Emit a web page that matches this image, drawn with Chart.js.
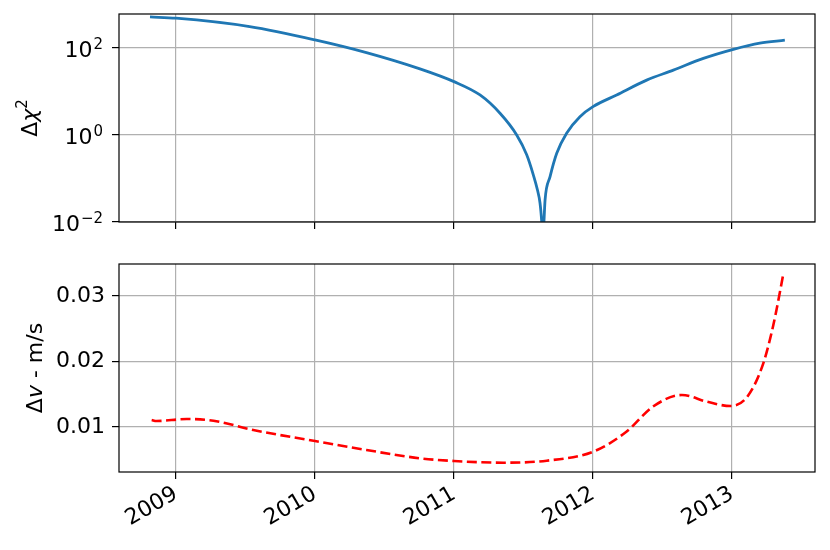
<!DOCTYPE html>
<html lang="en">
<head>
    <meta charset="UTF-8">
    <title>Δχ² and Δv</title>
    <script src="https://cdn.jsdelivr.net/npm/chart.js"></script>
    <style>
        body { margin: 0; background: #fff; }
        .wrap { position: relative; width: 830px; height: 550px; }
        canvas { position: absolute; left: 0; }
        #chiChart { top: 0; }
        #velChart { top: 243px; }
    </style>
</head>
<body>
    <div class="wrap">
        <canvas id="chiChart" width="830" height="243"></canvas>
        <canvas id="velChart" width="830" height="307"></canvas>
    </div>
    <script>
        // shared x axis (decimal years)
        const yearTicks = [2009, 2010, 2011, 2012, 2013];
        const xMin = 2008.59, xMax = 2013.597;

        // top panel: delta chi^2 (log)
        const chiYears = [2008.813, 2009.0, 2009.53, 2010.0, 2010.37, 2010.755, 2011.0, 2011.187, 2011.331,
            2011.451, 2011.523, 2011.571, 2011.600, 2011.619, 2011.631, 2011.638, 2011.647, 2011.655,
            2011.691, 2011.739, 2011.81, 2011.906, 2012.0, 2012.17, 2012.386, 2012.578, 2012.794,
            2013.01, 2013.20, 2013.38];
        const chiValues = [516, 482, 309, 153, 78, 33, 16.8, 8.3, 3.16,
            1.0, 0.35, 0.12, 0.055, 0.027, 0.0102, 0.004, 0.0102, 0.032,
            0.11, 0.38, 1.1, 2.63, 4.47, 8.3, 18.2, 30.9, 57.5,
            93, 129, 151];
        const chiTicks = [0.01, 1, 100];

        // bottom panel: delta v in m/s
        const velYears = [2008.825, 2008.86, 2009.077, 2009.27, 2009.556, 2010.0, 2010.37, 2010.755, 2011.0,
            2011.355, 2011.667, 2012.0, 2012.24, 2012.43, 2012.64, 2012.82, 2012.99, 2013.11, 2013.225,
            2013.30, 2013.37];
        const velValues = [0.01107, 0.01092, 0.01122, 0.01096, 0.00954, 0.00786, 0.00649, 0.00522, 0.00481,
            0.00455, 0.00486, 0.00623, 0.00928, 0.0131, 0.01489, 0.01386, 0.0132, 0.01463, 0.01972,
            0.02583, 0.03346];
        const velTicks = [0.01, 0.02, 0.03];

        const FONT = '"DejaVu Sans", sans-serif';
        const gridOpts = { color: '#b0b0b0', lineWidth: 1.2, tickColor: '#000', tickLength: 7, tickWidth: 1.2 };

        function drawRich(ctx, parts, x, y) {
            // rotated axis title, centred on y, baseline at x
            ctx.save();
            ctx.translate(x, y);
            ctx.rotate(-Math.PI / 2);
            ctx.fillStyle = '#000';
            ctx.textBaseline = 'alphabetic';
            ctx.textAlign = 'left';
            let total = 0;
            parts.forEach(p => { ctx.font = p.f; total += ctx.measureText(p.t).width; });
            let cx = -total / 2;
            parts.forEach(p => {
                ctx.font = p.f;
                ctx.fillText(p.t, cx, p.dy || 0);
                cx += ctx.measureText(p.t).width;
            });
            ctx.restore();
        }

        const frame = {
            id: 'frame',
            afterDraw(chart) {
                const a = chart.chartArea, ctx = chart.ctx;
                ctx.save();
                ctx.strokeStyle = '#000';
                ctx.lineWidth = 1.2;
                ctx.strokeRect(a.left, a.top, a.right - a.left, a.bottom - a.top);
                ctx.restore();
            }
        };

        const chiText = {
            id: 'chiText',
            afterDraw(chart) {
                const ctx = chart.ctx, ys = chart.scales.y;
                ctx.save();
                ctx.fillStyle = '#000';
                ctx.textAlign = 'right';
                ctx.textBaseline = 'alphabetic';
                chiTicks.forEach(v => {
                    const py = ys.getPixelForValue(v);
                    const e = Math.round(Math.log10(v));
                    const exp = e < 0 ? '\u2212' + (-e) : String(e);
                    ctx.font = '15px ' + FONT;
                    const ew = ctx.measureText(exp).width;
                    ctx.fillText(exp, 103, py + 1);
                    ctx.font = '22px ' + FONT;
                    ctx.fillText('10', 103 - ew - 1, py + 9);
                });
                ctx.restore();
                drawRich(ctx, [
                    { t: 'Δ', f: '22px ' + FONT },
                    { t: 'χ', f: 'italic 22px ' + FONT },
                    { t: '2', f: '15px ' + FONT, dy: -10 }
                ], 37, (chart.chartArea.top + chart.chartArea.bottom) / 2);
            }
        };

        const velText = {
            id: 'velText',
            afterDraw(chart) {
                drawRich(chart.ctx, [
                    { t: 'Δ', f: '22px ' + FONT },
                    { t: 'v', f: 'italic 22px ' + FONT },
                    { t: ' - m/s', f: '22px ' + FONT }
                ], 42, (chart.chartArea.top + chart.chartArea.bottom) / 2);
            }
        };

        new Chart(document.getElementById('chiChart'), {
            type: 'line',
            data: {
                datasets: [{
                    data: chiYears.map((x, i) => ({ x: x, y: chiValues[i] })),
                    borderColor: '#1f77b4',
                    borderWidth: 2.8,
                    pointRadius: 0,
                    cubicInterpolationMode: 'monotone',
                    fill: false
                }]
            },
            options: {
                responsive: false,
                animation: false,
                layout: { padding: { top: 14, right: 15, left: 0, bottom: 0 } },
                plugins: { legend: { display: false }, tooltip: { enabled: false } },
                scales: {
                    x: {
                        type: 'linear', min: xMin, max: xMax,
                        afterBuildTicks: s => { s.ticks = yearTicks.map(v => ({ value: v })); },
                        afterFit: s => { s.height = 21; },
                        grid: gridOpts,
                        border: { display: false },
                        ticks: { display: false }
                    },
                    y: {
                        type: 'logarithmic', min: 0.01, max: Math.pow(10, 2.78),
                        afterBuildTicks: s => { s.ticks = chiTicks.map(v => ({ value: v })); },
                        afterFit: s => { s.width = 119; },
                        grid: gridOpts,
                        border: { display: false },
                        ticks: { callback: () => '', autoSkip: false }
                    }
                }
            },
            plugins: [frame, chiText]
        });

        new Chart(document.getElementById('velChart'), {
            type: 'line',
            data: {
                datasets: [{
                    data: velYears.map((x, i) => ({ x: x, y: velValues[i] })),
                    borderColor: '#ff0000',
                    borderWidth: 2.6,
                    borderDash: [10, 4.5],
                    pointRadius: 0,
                    cubicInterpolationMode: 'monotone',
                    fill: false
                }]
            },
            options: {
                responsive: false,
                animation: false,
                layout: { padding: { top: 21, right: 15, left: 0, bottom: 0 } },
                plugins: { legend: { display: false }, tooltip: { enabled: false } },
                scales: {
                    x: {
                        type: 'linear', min: xMin, max: xMax,
                        afterBuildTicks: s => { s.ticks = yearTicks.map(v => ({ value: v })); },
                        afterFit: s => { s.height = 78; },
                        grid: gridOpts,
                        border: { display: false },
                        ticks: {
                            color: '#000', font: { family: FONT, size: 22 },
                            minRotation: 30, maxRotation: 30, padding: 2, autoSkip: false,
                            callback: v => String(v)
                        }
                    },
                    y: {
                        min: 0.00313, max: 0.03489,
                        afterBuildTicks: s => { s.ticks = velTicks.map(v => ({ value: v })); },
                        afterFit: s => { s.width = 119; },
                        grid: gridOpts,
                        border: { display: false },
                        ticks: {
                            color: '#000', font: { family: FONT, size: 22 }, padding: 7, autoSkip: false,
                            callback: v => v.toFixed(2)
                        }
                    }
                }
            },
            plugins: [frame, velText]
        });
    </script>
</body>
</html>
